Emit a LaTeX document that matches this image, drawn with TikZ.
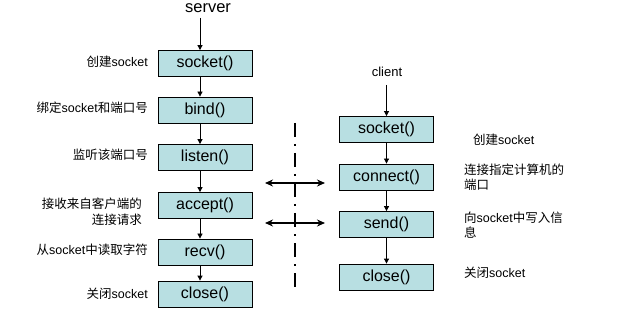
\documentclass[tikz,border=0pt]{standalone}
\usepackage{fontspec}
\setmainfont{Liberation Sans}
\newfontfamily\cjk{Noto Sans CJK SC}
\usetikzlibrary{arrows.meta}
\newcommand{\zh}[1]{{\cjk #1}}
\definecolor{boxfill}{HTML}{B8DFE2}
\begin{document}
\begin{tikzpicture}[x=1pt,y=-1pt,
  callbox/.style={draw=black,line width=0.8pt,fill=boxfill,minimum width=94pt,minimum height=26pt,
    inner sep=0pt,font=\fontsize{16}{18}\selectfont},
  flow/.style={line width=0.8pt,-{Triangle[length=5pt,width=5pt]}},
  note/.style={font=\fontsize{12.5}{15}\selectfont,inner sep=0pt},
  lefttxt/.style={note,anchor=east,align=right},
  righttxt/.style={note,anchor=west,align=left},
  link/.style={line width=2pt,{Stealth[length=8pt,width=7pt]}-{Stealth[length=8pt,width=7pt]}},
  divider/.style={line width=1.8pt,dash pattern=on 14pt off 7pt on 2pt off 7pt}]
\useasboundingbox (0,0) rectangle (639,312);

% server side
\node[font=\fontsize{16.5}{18}\selectfont,inner sep=0pt,anchor=base] (srv) at (208,12.5) {server};
\node[callbox] (ssock) at (205,63.5) {socket()};
\node[callbox] (sbind) at (205,110) {bind()};
\node[callbox] (slist) at (205,157.5) {listen()};
\node[callbox] (sacc)  at (205,205.5) {accept()};
\node[callbox] (srecv) at (205,252) {recv()};
\node[callbox] (sclose) at (205,294) {close()};

\coordinate (srvtop) at (200,18);
\draw[flow] (srvtop) -- ([xshift=-5pt]ssock.north);
\draw[flow] ([xshift=-5pt]ssock.south) -- ([xshift=-5pt]sbind.north);
\draw[flow] ([xshift=-5pt]sbind.south) -- ([xshift=-5pt]slist.north);
\draw[flow] ([xshift=-5pt]slist.south) -- ([xshift=-5pt]sacc.north);
\draw[flow] ([xshift=-5pt]sacc.south) -- ([xshift=-5pt]srecv.north);
\draw[flow] ([xshift=-5pt]srecv.south) -- ([xshift=-5pt]sclose.north);

\node[lefttxt] (l1) at (148,62) {\zh{创建}socket};
\node[lefttxt] (l2) at (148,108) {\zh{绑定}socket\zh{和端口号}};
\node[lefttxt] (l3) at (148,155) {\zh{监听该端口号}};
\node[lefttxt] (l4) at (142,211.5) {\zh{接收来自客户端的}\\[1pt]\zh{连接请求}};
\node[lefttxt] (l5) at (148,250) {\zh{从}socket\zh{中读取字符}};
\node[lefttxt] (l6) at (148,294) {\zh{关闭}socket};

% client side
\node[font=\fontsize{13}{15}\selectfont] (cli) at (387,72) {client};
\node[callbox] (csock) at (386.5,129.5) {socket()};
\node[callbox] (cconn) at (386.5,177) {connect()};
\node[callbox] (csend) at (386.5,224.5) {send()};
\node[callbox] (cclose) at (386.5,277) {close()};

\coordinate (clitop) at (386.5,85);
\draw[flow] (clitop) -- (csock.north);
\draw[flow] (csock.south) -- (cconn.north);
\draw[flow] (cconn.south) -- (csend.north);
\draw[flow] (csend.south) -- (cclose.north);

\node[righttxt] (r1) at (473,140) {\zh{创建}socket};
\node[righttxt,anchor=north west] (r2) at (464,164) {\zh{连接指定计算机的}\\[0pt]\zh{端口}};
\node[righttxt,anchor=north west] (r3) at (464,212) {\zh{向}socket\zh{中写入信}\\[0pt]\zh{息}};
\node[righttxt] (r4) at (464,273) {\zh{关闭}socket};

% network boundary and exchanges
\coordinate (divtop) at (295,123);
\coordinate (divbot) at (295,292);
\draw[divider] (divtop) -- (divbot);

\coordinate (a1l) at (265,183);
\coordinate (a1r) at (325,183);
\coordinate (a2l) at (265,223);
\coordinate (a2r) at (325,223);
\draw[link] (a1l) -- (a1r);
\draw[link] (a2l) -- (a2r);
\end{tikzpicture}
\end{document}
